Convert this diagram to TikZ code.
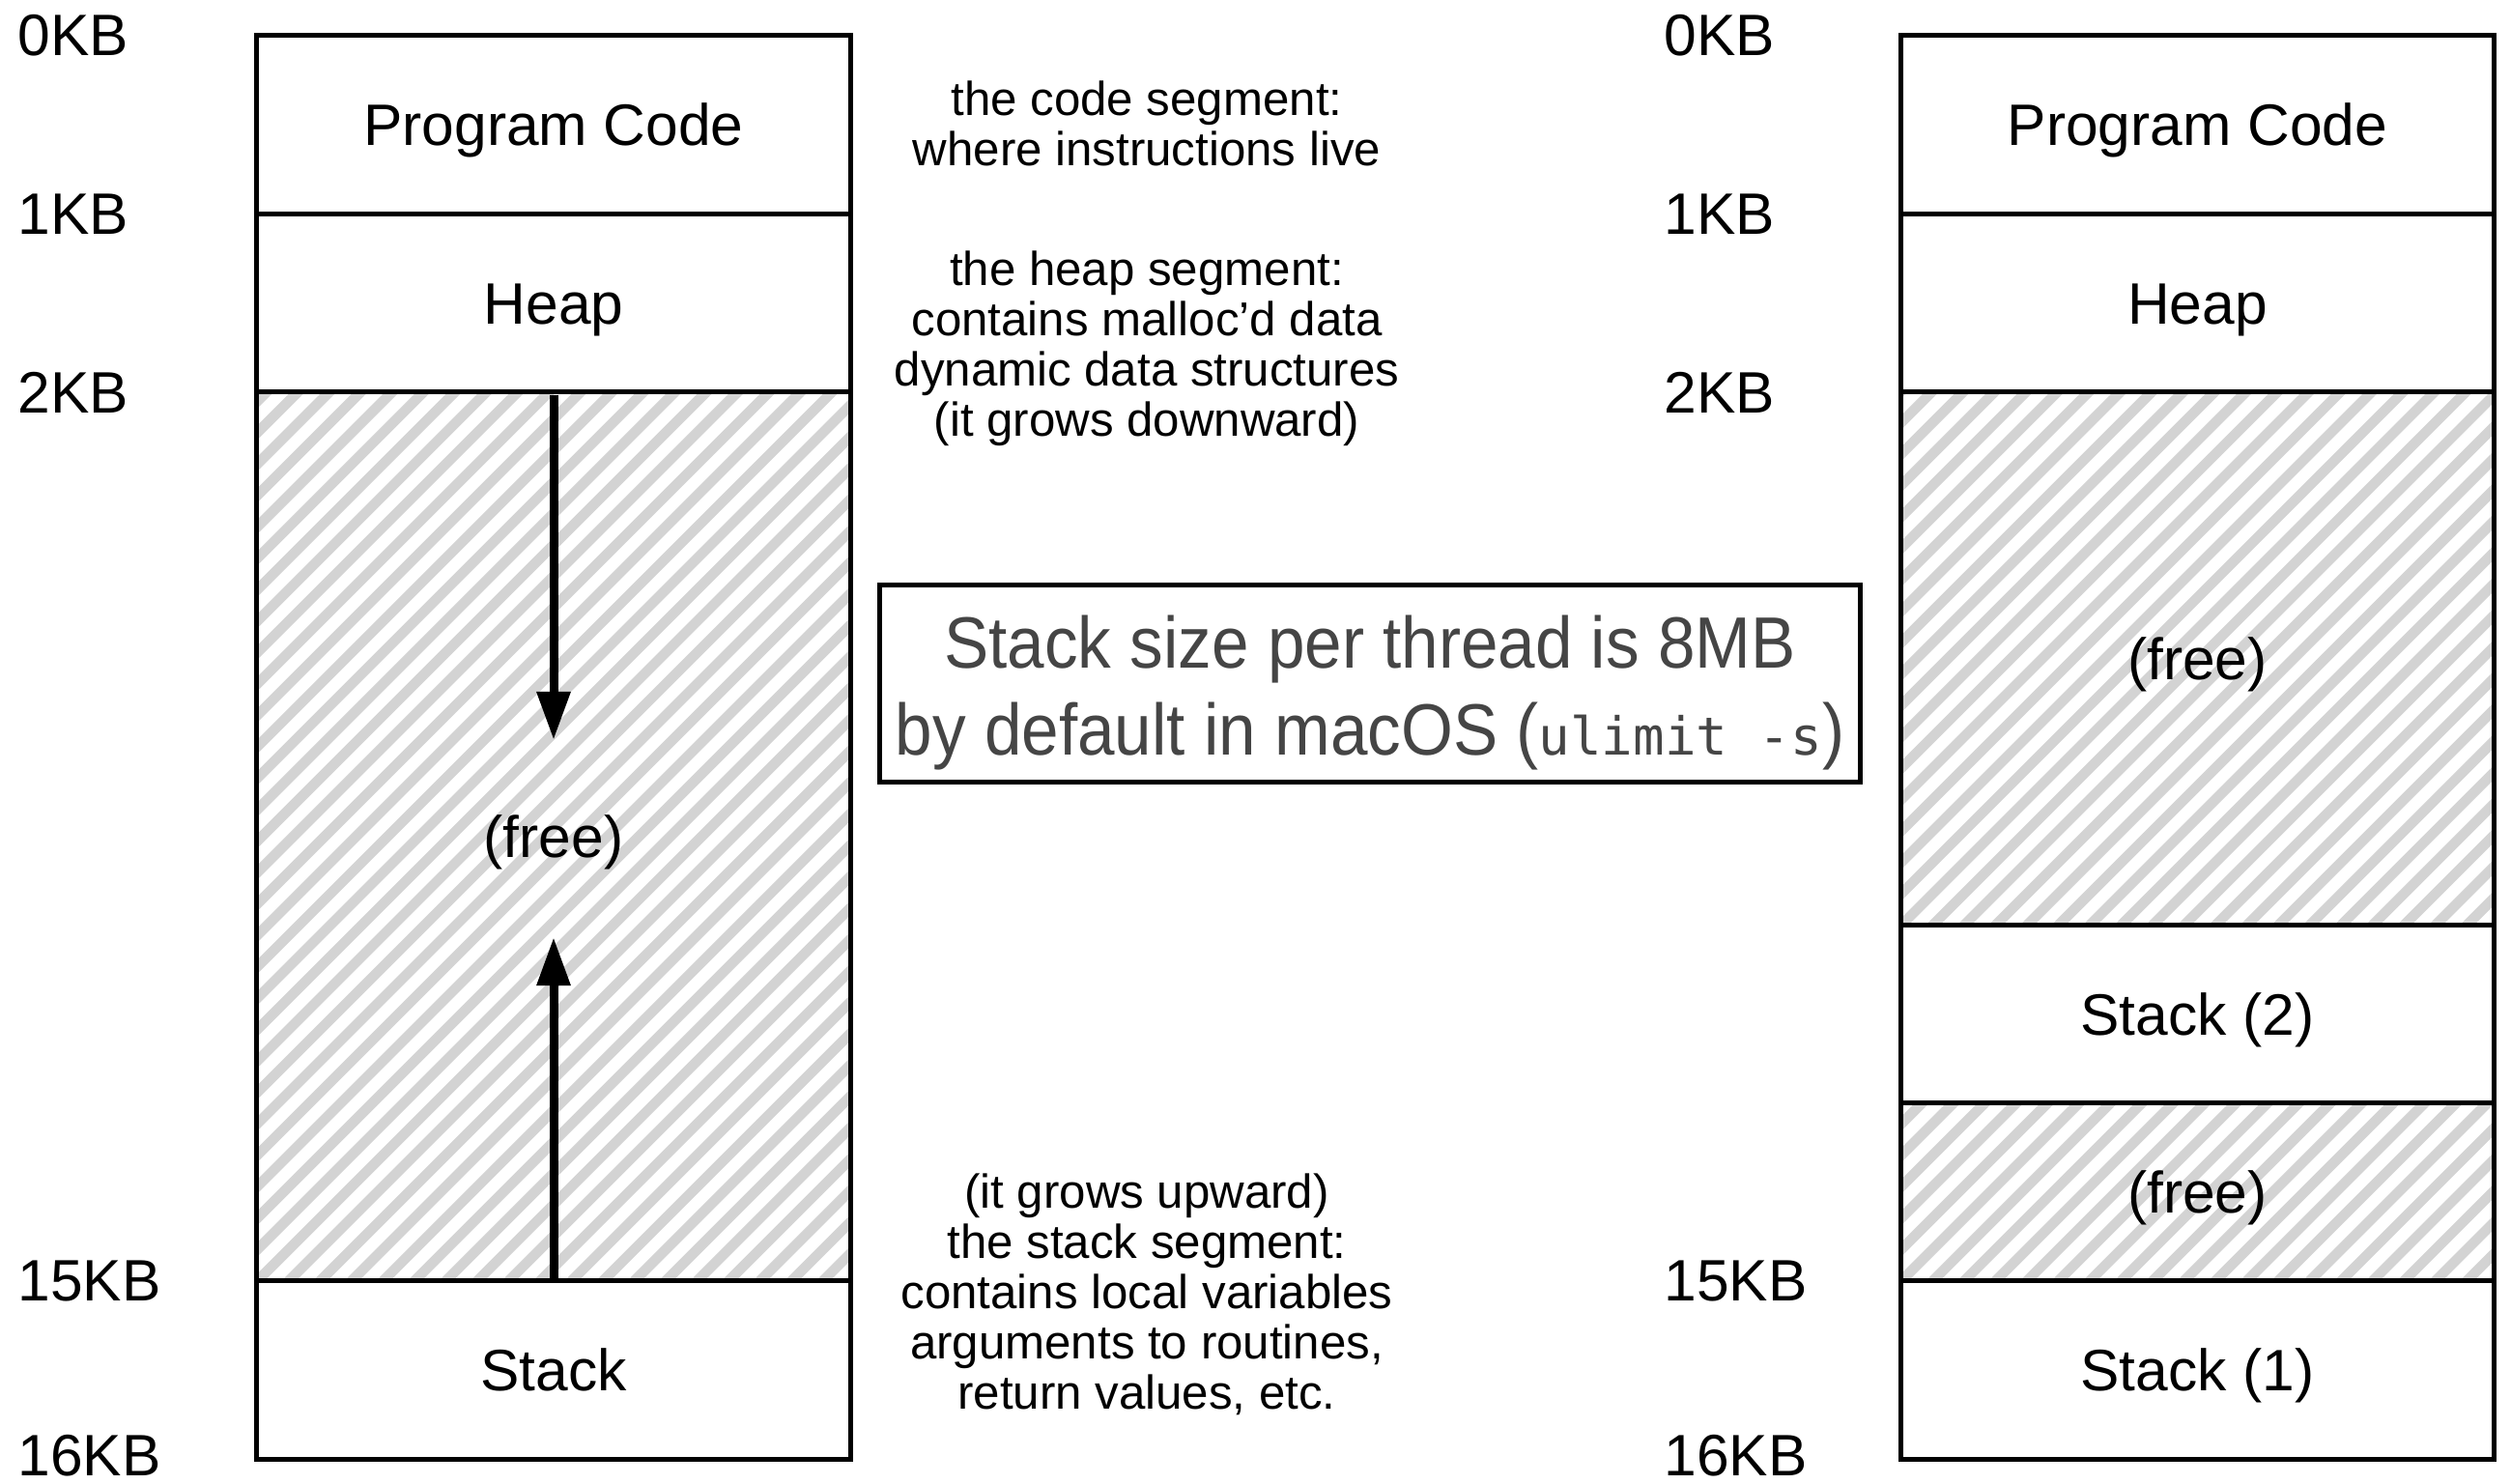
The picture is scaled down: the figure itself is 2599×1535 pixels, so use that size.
\documentclass[tikz,border=0pt]{standalone}
\usepackage{fontspec}
\setmainfont{Liberation Sans}
\setmonofont{DejaVu Sans Mono}
\newfontfamily\boxfont[FakeStretch=0.92]{Liberation Sans}
\usetikzlibrary{arrows.meta}
\definecolor{hatchgray}{HTML}{D3D3D3}
\definecolor{infogray}{HTML}{454545}
\tikzset{
  seg/.style={draw, line width=1.42pt, minimum width=6.14cm, inner sep=0pt,
    fill=white, font=\fontsize{17.2}{20}\selectfont,
    text height=12.3pt, text depth=0pt},
  hatched/.style={path picture={
    \foreach \i in {-32,...,22}
      \draw[line width=0.105cm, hatchgray]
        ([xshift=\i*0.325cm]path picture bounding box.south west) -- ++(12cm,12cm);}},
  kb/.style={anchor=west, inner sep=0pt, font=\fontsize{17.2}{20}\selectfont},
  note/.style={align=center, inner sep=0pt, font=\fontsize{14}{14.8}\selectfont},
  growarrow/.style={line width=0.09cm, -{Triangle[length=0.5cm,width=0.33cm]}},
}
\begin{document}
\begin{tikzpicture}[x=0.01cm, y=-0.01cm]
\useasboundingbox (0,0) rectangle (2599,1535);

% left memory layout
\node[seg, minimum height=1.845cm] (pc) at (573,129.25) {Program Code};
\node[seg, minimum height=1.845cm] (heap) at (573,313.75) {Heap};
\node[seg, hatched, minimum height=9.2cm] (lfree) at (573,866) {(free)};
\node[seg, minimum height=1.845cm] (stack) at (573,1418.25) {Stack};

\coordinate (dtip) at (573,766);
\coordinate (utip) at (573,970);
\draw[growarrow] (heap.south) -- (dtip);
\draw[growarrow] (stack.north) -- (utip);

% right memory layout
\node[seg, minimum height=1.845cm] (rpc) at (2274.5,129.25) {Program Code};
\node[seg, minimum height=1.845cm] (rheap) at (2274.5,313.75) {Heap};
\node[seg, hatched, minimum height=5.52cm] (rfreea) at (2274.5,682) {(free)};
\node[seg, minimum height=1.845cm] (rstackb) at (2274.5,1050) {Stack (2)};
\node[seg, hatched, minimum height=1.845cm] (rfreeb) at (2274.5,1234) {(free)};
\node[seg, minimum height=1.845cm] (rstacka) at (2274.5,1418.25) {Stack (1)};

% address labels left
\node[kb] (la) at (18,37) {0KB};
\node[kb] (lb) at (18,221.5) {1KB};
\node[kb] (lc) at (18,406) {2KB};
\node[kb] (ld) at (18,1326) {15KB};
\node[kb] (le) at (18,1507) {16KB};

% address labels right
\node[kb] (ra) at (1722,37) {0KB};
\node[kb] (rb) at (1722,221.5) {1KB};
\node[kb] (rc) at (1722,406) {2KB};
\node[kb] (rd) at (1722,1326) {15KB};
\node[kb] (re) at (1722,1507) {16KB};

% notes
\node[note] (codenote) at (1187,128) {the code segment:\\where instructions live};
\node[note] (heapnote) at (1187,361) {the heap segment:\\contains malloc’d data\\dynamic data structures\\(it grows downward)};
\node[note] (stacknote) at (1187,1339.5) {(it grows upward)\\the stack segment:\\contains local variables\\arguments to routines,\\return values, etc.};

% info box
\node[draw, line width=1.5pt, minimum width=10.15cm, minimum height=2.04cm,
  inner sep=0pt] (info) at (1418,707.5) {};
\node[align=center, inner sep=0pt, text=infogray,
  font=\boxfont\fontsize{21.4}{25.6}\selectfont] (infotext) at (1418,717)
  {Stack size per thread is 8MB\\by default in macOS ({\ttfamily\fontsize{15.4}{25.6}\selectfont ulimit -s})};
\end{tikzpicture}
\end{document}
